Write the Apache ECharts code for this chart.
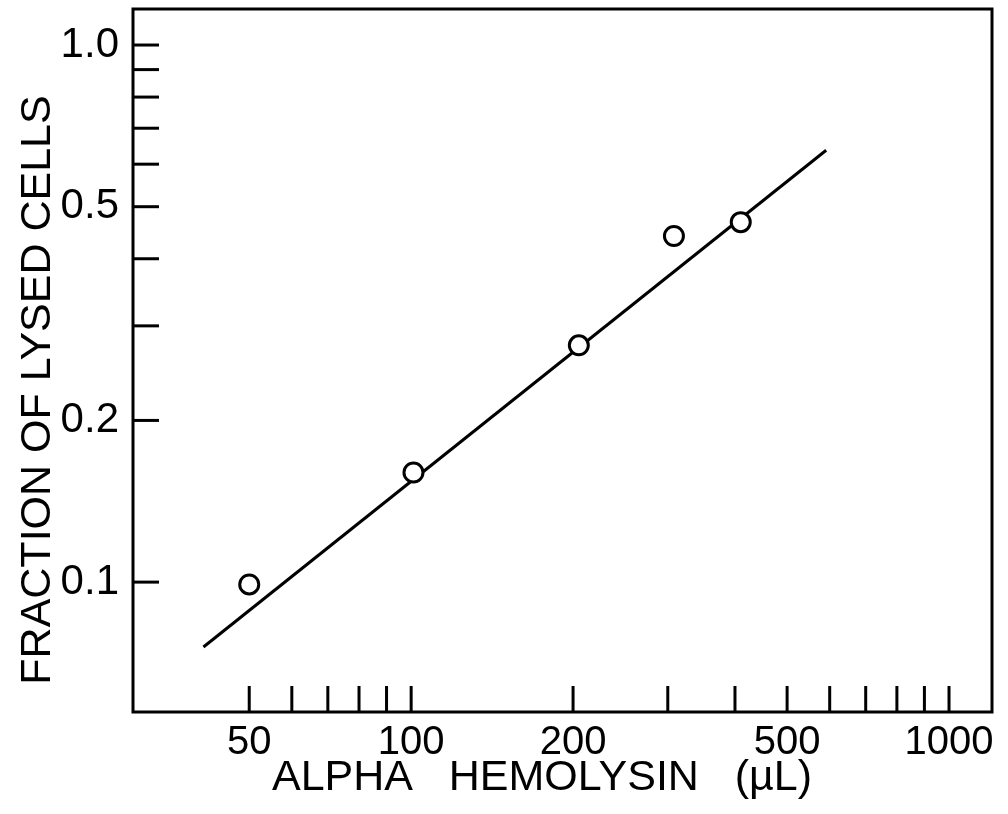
<!DOCTYPE html>
<html>
<head>
<meta charset="utf-8">
<script src="https://cdn.jsdelivr.net/npm/echarts@6/dist/echarts.min.js"></script>
<style>
  html, body { margin: 0; padding: 0; background: #fff; }
  #chart { width: 1008px; height: 814px; }
</style>
</head>
<body>
<div id="chart"></div>
<script>
// Measured data (alpha hemolysin dose in µL vs fraction of lysed cells)
var doses = [50, 101, 205, 308, 410];
var fractions = [0.099, 0.160, 0.276, 0.441, 0.468];

// Fitted straight line (log-log) endpoints
var fitX = [41.1, 591];
var fitY = [0.0757, 0.637];

// Axis ticks and labels
var xTickValues = [50, 60, 70, 80, 90, 100, 200, 300, 400, 500, 600, 700, 800, 900, 1000];
var xLabelValues = [50, 100, 200, 500, 1000];
var xLabelTexts = ['50', '100', '200', '500', '1000'];
var yTickValues = [0.1, 0.2, 0.3, 0.4, 0.5, 0.6, 0.7, 0.8, 0.9, 1.0];
var yLabelValues = [0.1, 0.2, 0.5, 1.0];
var yLabelTexts = ['0.1', '0.2', '0.5', '1.0'];

var xTitle = 'ALPHA   HEMOLYSIN   (µL)';
var yTitle = 'FRACTION OF LYSED CELLS';

var xMin = 30.4, xMax = 1202, yMin = 0.0573, yMax = 1.167;

var FONT = '"Liberation Sans", Arial, sans-serif';
var chart = echarts.init(document.getElementById('chart'), null, { renderer: 'canvas' });

function tickSeries(values, isX) {
  return {
    type: 'custom',
    silent: true,
    clip: false,
    data: values.map(function (v) { return isX ? [v, yMin] : [xMin, v]; }),
    encode: { x: 0, y: 1 },
    renderItem: function (params, api) {
      var p = api.coord([api.value(0), api.value(1)]);
      var len = 26;
      return {
        type: 'line',
        shape: isX ? { x1: p[0], y1: p[1], x2: p[0], y2: p[1] - len }
                   : { x1: p[0], y1: p[1], x2: p[0] + len, y2: p[1] },
        style: { stroke: '#000', lineWidth: 3 }
      };
    },
    z: 5
  };
}

function labelSeries(values, texts, isX) {
  return {
    type: 'custom',
    silent: true,
    clip: false,
    data: values.map(function (v, i) { return isX ? [v, yMin, i] : [xMin, v, i]; }),
    encode: { x: 0, y: 1 },
    renderItem: function (params, api) {
      var p = api.coord([api.value(0), api.value(1)]);
      var t = texts[api.value(2)];
      return {
        type: 'text',
        x: isX ? p[0] : p[0] - 14,
        y: isX ? p[1] + 31 : p[1],
        style: {
          text: t,
          fill: '#000',
          font: (isX ? '40px ' : '42px ') + FONT,
          textAlign: isX ? 'center' : 'right',
          textVerticalAlign: 'middle'
        }
      };
    },
    z: 5
  };
}

var option = {
  animation: false,
  backgroundColor: '#fff',
  grid: {
    left: 133, right: 16, top: 9, bottom: 102,
    show: true, borderColor: '#000', borderWidth: 3, backgroundColor: 'transparent'
  },
  xAxis: {
    type: 'log', logBase: 10, min: xMin, max: xMax,
    axisLine: { show: false }, axisTick: { show: false },
    axisLabel: { show: false }, splitLine: { show: false }, minorTick: { show: false }
  },
  yAxis: {
    type: 'log', logBase: 10, min: yMin, max: yMax,
    axisLine: { show: false }, axisTick: { show: false },
    axisLabel: { show: false }, splitLine: { show: false }, minorTick: { show: false }
  },
  graphic: [
    {
      type: 'text', x: 542, y: 778,
      style: { text: xTitle, fill: '#000', font: '43px ' + FONT, textAlign: 'center', textVerticalAlign: 'middle' }
    },
    {
      type: 'text', x: 38, y: 390, rotation: Math.PI / 2,
      style: { text: yTitle, fill: '#000', font: '43px ' + FONT, textAlign: 'center', textVerticalAlign: 'middle' }
    }
  ],
  series: [
    {
      type: 'line',
      data: fitX.map(function (x, i) { return [x, fitY[i]]; }),
      showSymbol: false,
      lineStyle: { color: '#000', width: 3 },
      silent: true,
      z: 2
    },
    {
      type: 'scatter',
      data: doses.map(function (d, i) { return [d, fractions[i]]; }),
      symbol: 'circle',
      symbolSize: 19,
      itemStyle: { color: '#fff', borderColor: '#000', borderWidth: 3, opacity: 1 },
      z: 3
    },
    tickSeries(xTickValues, true),
    tickSeries(yTickValues, false),
    labelSeries(xLabelValues, xLabelTexts, true),
    labelSeries(yLabelValues, yLabelTexts, false)
  ]
};
chart.setOption(option);
</script>
</body>
</html>
